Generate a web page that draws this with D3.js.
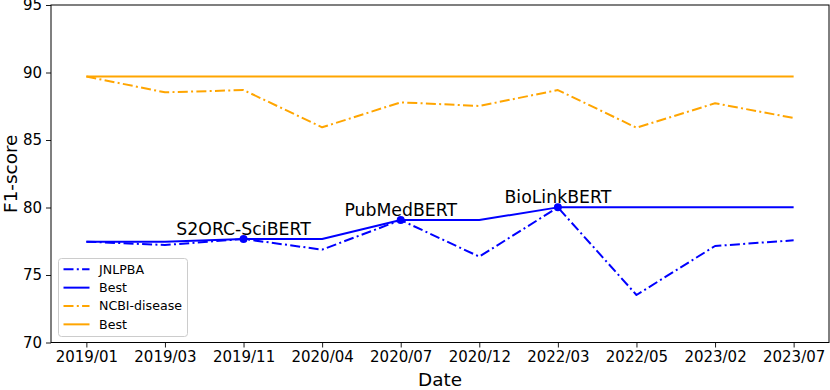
<!DOCTYPE html>
<html><head><meta charset="utf-8">
<script src="https://cdn.jsdelivr.net/npm/d3@7"></script>
<style>body{margin:0;background:#fff}svg{display:block;font-family:"DejaVu Sans",sans-serif}</style>
</head><body>
<svg id="c" width="830" height="390"></svg>
<script>
const dates = ["2019/01","2019/03","2019/11","2020/04","2020/07","2020/12","2022/03","2022/05","2023/02","2023/07"];
const jnlpba = [77.47,77.22,77.67,76.88,79.07,76.36,80.01,73.52,77.15,77.57];
const jnlpbaBest = [77.47,77.47,77.67,77.67,79.07,79.07,80.01,80.01,80.01,80.01];
const ncbi = [89.7,88.53,88.7,85.94,87.79,87.52,88.7,85.91,87.72,86.63];
const ncbiBest = [89.7,89.7,89.7,89.7,89.7,89.7,89.7,89.7,89.7,89.7];
const annotations = [{i:2,label:"S2ORC-SciBERT"},{i:4,label:"PubMedBERT"},{i:6,label:"BioLinkBERT"}];
const yTicks = [70,75,80,85,90,95];

const svg = d3.select("#c");
const L=51,R=829,T=5,B=342.5;
const x = d3.scalePoint().domain(dates).range([L,R]).padding(0.45);
const y = d3.scaleLinear().domain([70,95]).range([B,T]);
const blue="#0000ff", orange="#ffa500";
const dash="10,3.3,2,3.3";
const line = d3.line().x((d,i)=>x(dates[i])).y(d=>y(d));

const series = [
 {v:ncbiBest,c:orange,d:null},
 {v:ncbi,c:orange,d:dash},
 {v:jnlpbaBest,c:blue,d:null},
 {v:jnlpba,c:blue,d:dash}
];
series.forEach(s=>{
  svg.append("path").attr("d",line(s.v)).attr("fill","none").attr("stroke",s.c)
   .attr("stroke-width",2).attr("stroke-dasharray",s.d).attr("stroke-linejoin","round");
});
annotations.forEach(a=>{
  svg.append("circle").attr("cx",x(dates[a.i])).attr("cy",y(jnlpbaBest[a.i])).attr("r",4).attr("fill",blue);
  svg.append("text").attr("x",x(dates[a.i])).attr("y",y(jnlpbaBest[a.i])-4).attr("text-anchor","middle")
   .attr("font-size","17.3px").text(a.label);
});

const xa = svg.append("g").attr("transform",`translate(0,${B})`).call(d3.axisBottom(x).tickSize(5).tickPadding(4));
const ya = svg.append("g").attr("transform",`translate(${L},0)`).call(d3.axisLeft(y).tickValues(yTicks).tickSize(5).tickPadding(4));
[xa,ya].forEach(g=>{g.select(".domain").remove();g.selectAll("text").attr("font-size","15px").attr("fill","#000").attr("font-family","DejaVu Sans");g.selectAll("line").attr("stroke","#000").attr("stroke-width",0.9);});
svg.append("rect").attr("x",L).attr("y",T).attr("width",R-L).attr("height",B-T).attr("fill","none").attr("stroke","#000").attr("stroke-width",1);

svg.append("text").attr("x",(L+R)/2).attr("y",386).attr("text-anchor","middle").attr("font-size","18.4px").text("Date");
svg.append("text").attr("transform",`translate(16.5,${(T+B)/2}) rotate(-90)`).attr("text-anchor","middle").attr("font-size","18.4px").text("F1-score");

// legend
const lg = svg.append("g");
lg.append("rect").attr("x",58.5).attr("y",258.5).attr("width",129).attr("height",78).attr("rx",3).attr("fill","#fff").attr("fill-opacity",0.8).attr("stroke","#ccc");
const items=[{t:"JNLPBA",c:blue,d:dash},{t:"Best",c:blue,d:null},{t:"NCBI-disease",c:orange,d:dash},{t:"Best",c:orange,d:null}];
items.forEach((it,k)=>{
  const yy=269.3+k*18.35;
  lg.append("line").attr("x1",63.5).attr("x2",89.5).attr("y1",yy).attr("y2",yy).attr("stroke",it.c).attr("stroke-width",2).attr("stroke-dasharray",it.d);
  lg.append("text").attr("x",99).attr("y",yy).attr("dy","0.35em").attr("font-size","12.6px").text(it.t);
});
</script>
</body></html>
